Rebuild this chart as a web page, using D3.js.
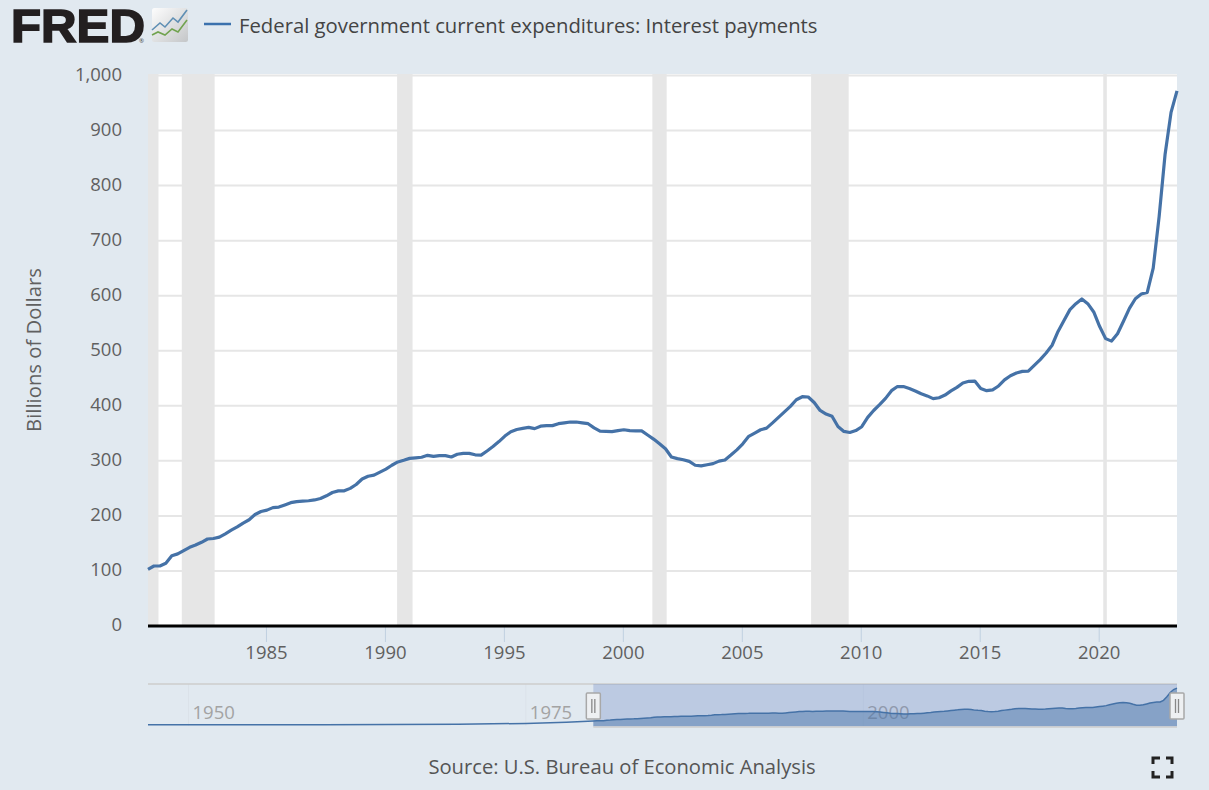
<!DOCTYPE html>
<html>
<head>
<meta charset="utf-8">
<title>Federal government current expenditures: Interest payments</title>
<script src="https://cdn.jsdelivr.net/npm/d3@7"></script>
<style>
  html, body { margin: 0; padding: 0; background: #e1e9f0; overflow: hidden; }
  text { font-family: "Open Sans", sans-serif; }
</style>
</head>
<body>
<div id="chart"></div>
<script>
// quarterly values, billions of dollars, 1980 Q1 to 2023 Q2
const interestPayments = [
  103, 109, 109, 114, 127.5, 131, 137, 143, 147, 152, 158, 159,
  161.5, 167.5, 174, 180, 187, 193, 202.5, 208, 210.5, 215, 216, 220,
  224, 226, 227, 227.5, 229, 231.5, 236.5, 242.5, 245.5, 245.5, 250, 257,
  267, 272, 274, 279.5, 285, 292, 298, 301,
  304.5, 305.5, 306.5, 310, 308, 309.5, 309.5, 307, 312, 313.5, 313.5, 311,
  310.5, 318, 326, 335, 345, 353, 357, 359, 360.7, 358.5, 363, 364,
  364, 367.5, 369, 370.5, 370.5, 369, 367.5, 360, 354, 353.7, 353, 355,
  356.5, 355, 354.5, 354.5, 347,
  339.5, 331, 322, 307, 304, 302, 299, 292, 291, 293, 295, 299.5,
  301.5, 310.5, 320, 331, 344.5, 350.5, 356.5, 359.5, 369, 379, 389, 399,
  411, 416.5, 416, 406, 391.5, 385, 381, 362.5, 353.5, 351.5, 355, 362,
  379, 391.5, 402, 413.5, 427.5, 435, 435,
  431.5, 427, 422, 418, 413, 414.7, 419.5, 427, 433.5, 441.5, 444.5, 445,
  431.5, 427.5, 429, 436, 447, 454.7, 459.5, 462.5, 463, 473.5, 484, 496,
  510, 535, 555, 574.7, 585.5, 594, 585.5, 570.5,
  544, 522, 517.5, 531, 553.5, 577, 594.5, 603, 606, 650, 744, 857, 933, 972
];

// the part of the series only seen in the navigator
const earlyYears = [1947, 1950, 1955, 1960, 1965, 1970, 1975, 1978];
const earlyValues = [5, 6, 7, 9, 12, 20, 42, 70];

const recessionStarts = [1980, 1981.42, 1990.47, 2001.2, 2007.87, 2020.15];
const recessionEnds = [1980.44, 1982.8, 1991.12, 2001.8, 2009.45, 2020.3];

const yTicks = [0, 100, 200, 300, 400, 500, 600, 700, 800, 900, 1000];
const xTicks = [1985, 1990, 1995, 2000, 2005, 2010, 2015, 2020];
const navTicks = [1950, 1975, 2000];

const seriesName = "Federal government current expenditures: Interest payments";
const yTitle = "Billions of Dollars";
const sourceText = "Source: U.S. Bureau of Economic Analysis";

const mainData = interestPayments.map((v, i) => ({ year: 1980 + i / 4, value: v }));
const earlyData = earlyYears.map((y, i) => ({ year: y, value: earlyValues[i] }));
const navData = earlyData.concat(mainData);

const width = 1209, height = 790;
const plotLeft = 148, plotRight = 1177, plotTop = 74, plotBottom = 626;
const lineColor = "#4572a7";

const svg = d3.select("#chart").append("svg")
    .attr("width", width)
    .attr("height", height)
    .style("display", "block");

const x = d3.scaleLinear().domain([1980, 2023.25]).range([plotLeft, plotRight]);
const y = d3.scaleLinear().domain([0, 1000]).range([plotBottom, plotTop + 1.5]);

// plot background
svg.append("rect")
    .attr("x", plotLeft).attr("y", plotTop)
    .attr("width", plotRight - plotLeft).attr("height", plotBottom - plotTop)
    .attr("fill", "#fff");

// grid lines
svg.append("g").selectAll("line")
  .data(yTicks.slice(1))
  .join("line")
    .attr("x1", plotLeft).attr("x2", plotRight)
    .attr("y1", d => y(d)).attr("y2", d => y(d))
    .attr("stroke", "#e6e6e6")
    .attr("stroke-width", 2);

// recession bars
svg.append("g").selectAll("rect")
  .data(recessionStarts)
  .join("rect")
    .attr("x", d => x(d))
    .attr("y", plotTop)
    .attr("width", (d, i) => x(recessionEnds[i]) - x(d))
    .attr("height", plotBottom - plotTop)
    .attr("fill", "#e6e6e6");

// y axis
const yAxis = svg.append("g")
    .attr("transform", `translate(${plotLeft},-1)`)
    .call(d3.axisLeft(y).tickValues(yTicks).tickFormat(d3.format(",")).tickSize(0).tickPadding(26));
yAxis.select(".domain").remove();
yAxis.selectAll("text")
    .attr("fill", "#606060")
    .style("font-size", "18.5px")
    .style("font-family", '"Open Sans", sans-serif');

svg.append("text")
    .attr("transform", "translate(41,350) rotate(-90)")
    .attr("text-anchor", "middle")
    .attr("fill", "#606060")
    .style("font-size", "20.3px")
    .text(yTitle);

// x axis
const xAxis = svg.append("g")
    .attr("transform", `translate(-1,${plotBottom})`)
    .call(d3.axisBottom(x).tickValues(xTicks).tickFormat(d3.format("d")).tickSize(16).tickPadding(4));
xAxis.select(".domain").remove();
xAxis.selectAll("line").attr("stroke", "#c0d0e0");
xAxis.selectAll("text")
    .attr("fill", "#606060")
    .style("font-size", "18.5px")
    .style("font-family", '"Open Sans", sans-serif');

svg.append("line")
    .attr("x1", plotLeft).attr("x2", plotRight)
    .attr("y1", plotBottom).attr("y2", plotBottom)
    .attr("stroke", "#000")
    .attr("stroke-width", 3);

// main line
const line = d3.line().x(d => x(d.year)).y(d => y(d.value));
svg.append("path")
    .datum(mainData)
    .attr("d", line)
    .attr("fill", "none")
    .attr("stroke", lineColor)
    .attr("stroke-width", 3.2)
    .attr("stroke-linejoin", "round");

// navigator
const navTop = 684, navBottom = 726;
const navX = d3.scaleLinear().domain([1947, 2023.25]).range([plotLeft, plotRight]);
const navY = d3.scaleLinear().domain([0, 1000]).range([navBottom - 1, navTop + 3]);
const nav = svg.append("g");

nav.selectAll("line.navgrid")
  .data(navTicks)
  .join("line")
    .attr("class", "navgrid")
    .attr("x1", d => navX(d)).attr("x2", d => navX(d))
    .attr("y1", navTop).attr("y2", navBottom)
    .attr("stroke", "#dbe2e9");

nav.selectAll("text")
  .data(navTicks)
  .join("text")
    .attr("x", d => navX(d) + 4)
    .attr("y", 719)
    .attr("fill", "#a3a3a3")
    .style("font-size", "18.5px")
    .text(d => d);

nav.append("line")
    .attr("x1", plotLeft).attr("x2", plotRight)
    .attr("y1", navTop).attr("y2", navTop)
    .attr("stroke", "#ccc")
    .attr("stroke-width", 1.5);

nav.append("rect")
    .attr("x", navX(1980)).attr("y", navTop)
    .attr("width", plotRight - navX(1980)).attr("height", navBottom + 1 - navTop)
    .attr("fill", "#6685c2")
    .attr("fill-opacity", 0.3);

nav.append("path")
    .datum(navData.filter(d => d.year >= 1980))
    .attr("d", d3.area().x(d => navX(d.year)).y0(navBottom).y1(d => navY(d.value)))
    .attr("fill", lineColor)
    .attr("fill-opacity", 0.45);

nav.append("path")
    .datum(navData)
    .attr("d", d3.line().x(d => navX(d.year)).y(d => navY(d.value)))
    .attr("fill", "none")
    .attr("stroke", lineColor)
    .attr("stroke-width", 1.5);

nav.append("line")
    .attr("x1", navX(1980)).attr("x2", plotRight)
    .attr("y1", navBottom + 1).attr("y2", navBottom + 1)
    .attr("stroke", "#ccc")
    .attr("stroke-width", 1.5);

// navigator handles
const handles = nav.selectAll("g.handle")
  .data([1980, 2023.25])
  .join("g")
    .attr("class", "handle")
    .attr("transform", d => `translate(${navX(d)},0)`);
handles.append("rect")
    .attr("x", -7).attr("y", 693)
    .attr("width", 14).attr("height", 26)
    .attr("rx", 1)
    .attr("fill", "#eef0f2")
    .attr("stroke", "#a8a8a8")
    .attr("stroke-width", 1.5);
handles.selectAll("line")
  .data([-1.5, 1.5])
  .join("line")
    .attr("x1", d => d).attr("x2", d => d)
    .attr("y1", 699).attr("y2", 713)
    .attr("stroke", "#888")
    .attr("stroke-width", 1.3);

// source and fullscreen icon
svg.append("text")
    .attr("x", 622).attr("y", 774)
    .attr("text-anchor", "middle")
    .attr("fill", "#555")
    .style("font-size", "20.2px")
    .text(sourceText);

svg.append("path")
    .attr("d", "M1153 764V758H1160 M1166 758H1172V764 M1172 771V777H1166 M1160 777H1153V771")
    .attr("fill", "none")
    .attr("stroke", "#222")
    .attr("stroke-width", 3);

// legend
svg.append("line")
    .attr("x1", 204).attr("x2", 231)
    .attr("y1", 24).attr("y2", 24)
    .attr("stroke", "#3b71ad")
    .attr("stroke-width", 2.5);
svg.append("text")
    .attr("x", 239).attr("y", 33)
    .attr("fill", "#444")
    .style("font-size", "20.3px")
    .text(seriesName);

// FRED logo
svg.append("text")
    .attr("x", 11).attr("y", 42)
    .attr("fill", "#231f20")
    .attr("stroke", "#231f20")
    .attr("stroke-width", 1.6)
    .attr("textLength", 134)
    .attr("lengthAdjust", "spacingAndGlyphs")
    .style("font-family", '"Liberation Sans", sans-serif')
    .style("font-weight", 700)
    .style("font-size", "47px")
    .text("FRED");
svg.append("text")
    .attr("x", 139).attr("y", 43)
    .attr("fill", "#444")
    .style("font-size", "6px")
    .text("®");

const logoGrad = svg.append("defs").append("linearGradient")
    .attr("id", "logoGrad")
    .attr("x1", 0).attr("y1", 0).attr("x2", 1).attr("y2", 1);
logoGrad.append("stop").attr("offset", "0%").attr("stop-color", "#fdfdfd");
logoGrad.append("stop").attr("offset", "100%").attr("stop-color", "#c4c6c8");
svg.append("rect")
    .attr("x", 152).attr("y", 8)
    .attr("width", 36).attr("height", 34)
    .attr("rx", 2.5)
    .attr("fill", "url(#logoGrad)");
svg.append("path")
    .attr("d", "M152 30L160 23L165 27L173 18L178 22L187 10")
    .attr("fill", "none")
    .attr("stroke", "#5f8fb4")
    .attr("stroke-width", 1.6);
svg.append("path")
    .attr("d", "M152 35L158 32L165 35L172 29L178 32L187 20")
    .attr("fill", "none")
    .attr("stroke", "#71a34f")
    .attr("stroke-width", 1.6);
</script>
</body>
</html>
